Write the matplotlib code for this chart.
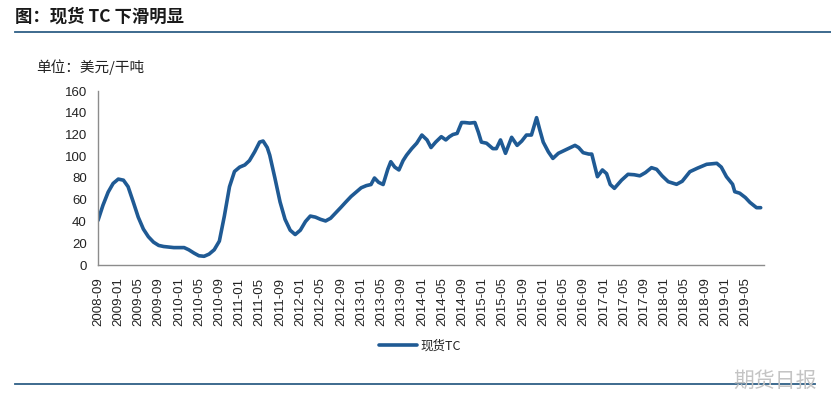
import matplotlib
matplotlib.use("Agg")
import matplotlib.pyplot as plt
import pandas as pd
from matplotlib.lines import Line2D

plt.rcParams['font.family'] = ['Noto Sans CJK SC', 'DejaVu Sans']

title = "图：现货 TC 下滑明显"
unit_label = "单位：美元/干吨"
series_name = "现货TC"
watermark = "期货日报"

dates = [
    "2008-09-01", "2008-10-01", "2008-11-01", "2008-12-01", "2009-01-01", "2009-02-01",
    "2009-03-01", "2009-04-01", "2009-05-01", "2009-06-01", "2009-07-01", "2009-08-01",
    "2009-09-01", "2009-10-01", "2009-11-01", "2009-12-01", "2010-01-01", "2010-02-01",
    "2010-03-01", "2010-04-01", "2010-05-01", "2010-06-01", "2010-07-01", "2010-08-01",
    "2010-09-01", "2010-10-01", "2010-11-01", "2010-12-01", "2011-01-01", "2011-02-01",
    "2011-03-01", "2011-04-01", "2011-05-01", "2011-05-22", "2011-06-16", "2011-07-01",
    "2011-08-01", "2011-09-01", "2011-10-01", "2011-11-01", "2011-12-01", "2012-01-01",
    "2012-02-01", "2012-03-01", "2012-04-01", "2012-05-01", "2012-06-01", "2012-07-01",
    "2012-08-01", "2012-09-01", "2012-10-01", "2012-11-01", "2012-12-01", "2013-01-01",
    "2013-02-01", "2013-03-01", "2013-03-22", "2013-04-16", "2013-05-13", "2013-06-10",
    "2013-06-28", "2013-07-22", "2013-08-16", "2013-09-10", "2013-10-01", "2013-11-01",
    "2013-12-01", "2014-01-01", "2014-02-01", "2014-02-25", "2014-03-25", "2014-04-28",
    "2014-05-25", "2014-06-16", "2014-07-07", "2014-08-01", "2014-08-28", "2014-09-16",
    "2014-10-16", "2014-11-16", "2014-12-07", "2014-12-25", "2015-01-25", "2015-03-04",
    "2015-03-25", "2015-04-19", "2015-05-19", "2015-06-25", "2015-07-28", "2015-08-25",
    "2015-09-22", "2015-10-22", "2015-11-22", "2015-12-10", "2016-01-01", "2016-02-01",
    "2016-02-28", "2016-04-01", "2016-05-16", "2016-07-10", "2016-08-01", "2016-08-28",
    "2016-10-01", "2016-10-19", "2016-11-22", "2016-12-22", "2017-01-16", "2017-02-07",
    "2017-03-04", "2017-04-16", "2017-05-25", "2017-07-01", "2017-08-04", "2017-09-07",
    "2017-10-13", "2017-11-13", "2017-12-16", "2018-01-22", "2018-03-13", "2018-04-16",
    "2018-06-01", "2018-07-16", "2018-09-10", "2018-11-10", "2018-12-07", "2019-01-07",
    "2019-02-13", "2019-02-26", "2019-03-28", "2019-05-01", "2019-05-28", "2019-07-07",
    "2019-08-01",
]

tc_values = [
    41, 55, 67, 75, 79, 78,
    72, 58, 44, 33, 26, 21,
    18, 17, 16.5, 16, 16, 16,
    14, 11, 8.5, 8, 10, 14,
    22, 45, 72, 86, 90, 92,
    96, 104, 113, 114, 108, 101,
    80, 58, 42, 32, 28, 32,
    40, 45, 44, 42, 40.5, 43,
    48, 53, 58, 63, 67, 71,
    73, 74, 80, 76, 74, 88,
    95, 90, 87.4, 96, 101, 107,
    112, 119.5, 115, 108, 113, 118,
    115, 118, 120, 121, 131, 131,
    130.5, 131, 122, 113, 112, 107,
    107, 115, 102.7, 117.4, 110, 114,
    119.5, 119.5, 135.5, 125, 113, 104,
    98, 102.7, 106, 110, 108, 103.3,
    102, 102, 81.2, 87.4, 84, 74,
    70.5, 78, 83.4, 83, 82, 85,
    89.5, 88, 82, 76.6, 74.2, 77,
    85.8, 89, 92.6, 93.5, 90, 81.2,
    74.2, 67.4, 66, 62, 57.6, 52.7,
    52.7,
]

tick_dates = list(pd.date_range("2008-09-01", "2019-05-01", freq="4MS"))
tick_labels = [d.strftime("%Y-%m") for d in tick_dates]
y_ticks = [0, 20, 40, 60, 80, 100, 120, 140, 160]

line_color = "#1f5a94"
rule_color = "#2e5f86"
text_color = "#222222"

fig = plt.figure(figsize=(8.31, 3.94), dpi=100)
fig.patch.set_facecolor("white")

# Header
fig.text(15 / 831, 1 - 17 / 394, title, fontsize=12.5, fontweight="bold",
         color="#1a1a1a", ha="left", va="center")
fig.add_artist(Line2D([15 / 831, 1.0], [1 - 32 / 394, 1 - 32 / 394],
                      transform=fig.transFigure, color=rule_color, lw=1.3))
fig.text(36 / 831, 1 - 67 / 394, unit_label, fontsize=10.5, color=text_color,
         ha="left", va="center")

ax = fig.add_axes([98 / 831, 1 - 265 / 394, (764 - 98) / 831, (265 - 91) / 394])
x = pd.to_datetime(dates)
ax.plot(x, tc_values, color=line_color, lw=2.6, solid_joinstyle="round",
        solid_capstyle="round", label=series_name)

ax.set_ylim(0, 160)
ax.set_yticks(y_ticks)
ax.set_yticklabels([str(v) for v in y_ticks])
x0 = pd.Timestamp("2008-09-01")
x1 = x0 + pd.Timedelta(days=131.6 * 30.44)
ax.set_xlim(x0, x1)
ax.set_xticks(tick_dates)
ax.set_xticklabels(tick_labels, rotation=90)

for s in ["top", "right"]:
    ax.spines[s].set_visible(False)
for s in ["left", "bottom"]:
    ax.spines[s].set_color("#8c8c8c")
    ax.spines[s].set_linewidth(1.0)
ax.tick_params(axis="both", length=0, colors=text_color)
ax.tick_params(axis="y", pad=8, labelsize=9.5)
ax.tick_params(axis="x", pad=9, labelsize=9.5)
for lbl in ax.get_xticklabels() + ax.get_yticklabels():
    lbl.set_family(["Liberation Sans", "DejaVu Sans"])

leg = ax.legend(loc="center", bbox_to_anchor=(420 / 831, 1 - 346 / 394),
                bbox_transform=fig.transFigure, frameon=False, fontsize=9,
                handlelength=3.0, handletextpad=0.3)
for t in leg.get_texts():
    t.set_color(text_color)

# Footer rule and watermark
fig.add_artist(Line2D([15 / 831, 815 / 831], [1 - 384 / 394, 1 - 384 / 394],
                      transform=fig.transFigure, color=rule_color, lw=1.3))
fig.text(775 / 831, 1 - 381 / 394, watermark, fontsize=15, color="#c4c4c4",
         ha="center", va="center")

fig.savefig("out.png", dpi=100, facecolor="white")
